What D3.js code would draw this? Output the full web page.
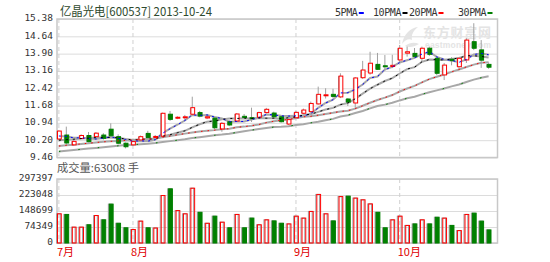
<!DOCTYPE html>
<html>
<head>
<meta charset="utf-8">
<script src="https://cdn.jsdelivr.net/npm/d3@7/dist/d3.min.js"></script>
<style>
  body { margin: 0; background: #fff; }
  svg { display: block; }
</style>
</head>
<body>
<div id="chart"></div>
<script>
// trading days shown, 2013-07 .. 2013-10-24
const days = d3.range(59);
const monthLabels = ['7月', '8月', '9月', '10月'];
const monthStart = [0, 10, 32, 46];

const open  = [10.25,10.42,10.00,10.27,10.40,10.35,10.42,10.67,10.35,10.07,
               10.00,10.21,10.49,10.33,10.37,11.31,11.14,11.16,11.31,11.38,
               11.15,11.14,10.68,10.99,11.02,11.22,11.16,11.18,11.38,11.36,
               11.20,10.89,11.16,11.35,11.42,11.75,12.10,12.16,12.05,11.96,
               11.79,12.87,13.07,13.44,13.38,13.35,13.63,13.92,13.91,13.70,
               14.13,13.70,12.99,13.66,13.34,13.63,14.41,14.06,13.44];
const high  = [10.63,10.78,10.20,10.45,10.55,10.55,10.50,10.92,10.45,10.10,
               10.20,10.40,10.60,10.42,11.38,11.45,11.22,11.28,12.06,11.45,
               11.30,11.20,10.98,11.05,11.36,11.32,11.59,11.42,11.58,11.42,
               11.26,11.12,11.45,11.55,11.85,12.49,12.42,12.40,13.06,12.00,
               12.90,13.59,13.98,13.93,13.84,13.85,14.27,14.20,14.14,14.20,
               14.20,13.75,13.50,13.75,13.74,14.56,15.20,14.48,13.52];
const low   = [10.21,10.00,9.95,10.25,10.10,10.30,10.22,10.35,10.02,9.85,
               9.95,10.18,10.28,10.28,10.33,11.02,11.10,11.06,11.30,11.18,
               11.10,10.68,10.56,10.80,11.00,11.12,10.98,11.12,11.34,11.15,
               10.95,10.85,11.12,11.30,11.38,11.72,11.98,11.98,12.00,11.66,
               11.56,12.82,13.00,13.20,13.18,13.28,13.49,13.77,13.71,13.56,
               13.80,12.98,12.77,13.40,13.20,13.50,14.05,13.29,13.25];
const close = [10.59,10.08,10.15,10.40,10.14,10.50,10.28,10.39,10.07,9.92,
               10.14,10.35,10.31,10.36,11.35,11.09,11.18,11.20,11.59,11.23,
               11.20,10.73,10.92,10.85,11.32,11.17,11.12,11.38,11.52,11.20,
               10.99,11.08,11.39,11.49,11.77,12.16,12.14,12.07,12.94,11.83,
               12.86,13.20,13.49,13.23,13.34,13.40,14.13,13.98,13.77,14.13,
               13.87,13.06,13.41,13.60,13.70,14.48,14.13,13.62,13.32];
const volume = [138000,135000,76000,76000,87000,130000,110000,183000,94000,73000,
                65000,104000,73000,72000,223000,254000,153000,138000,257000,145000,
                94000,127000,99000,73000,135000,73000,118000,87000,110000,105000,
                94000,91000,127000,118000,149000,228000,138000,105000,218000,220000,
                211000,203000,184000,145000,73000,110000,127000,84000,91000,110000,
                91000,122000,118000,84000,60000,135000,141000,104000,63008];

const ma5  = [10.38,10.36,10.30,10.30,10.27,10.25,10.29,10.34,10.28,10.23,
              10.16,10.17,10.16,10.22,10.50,10.69,10.86,11.04,11.28,11.26,
              11.28,11.19,11.13,10.99,11.00,11.00,11.08,11.17,11.30,11.28,
              11.24,11.23,11.24,11.23,11.34,11.58,11.79,11.93,12.22,12.23,
              12.37,12.58,12.86,12.92,13.22,13.33,13.52,13.62,13.72,13.88,
              13.98,13.76,13.65,13.61,13.53,13.65,13.86,13.91,13.85];
const ma10 = [10.20,10.22,10.24,10.27,10.29,10.31,10.32,10.32,10.30,10.25,
              10.21,10.23,10.25,10.25,10.37,10.43,10.52,10.60,10.75,10.88,
              10.99,11.02,11.09,11.13,11.13,11.14,11.13,11.15,11.14,11.14,
              11.12,11.16,11.20,11.27,11.31,11.41,11.51,11.58,11.72,11.79,
              11.97,12.19,12.40,12.57,12.73,12.85,13.05,13.24,13.32,13.55,
              13.65,13.64,13.63,13.67,13.71,13.81,13.81,13.78,13.73];
const ma20 = [9.95,9.98,10.01,10.04,10.07,10.10,10.13,10.15,10.17,10.19,
              10.21,10.23,10.25,10.27,10.33,10.38,10.43,10.48,10.53,10.57,
              10.60,10.63,10.67,10.69,10.75,10.78,10.82,10.87,10.95,11.01,
              11.05,11.09,11.14,11.20,11.22,11.27,11.32,11.37,11.43,11.46,
              11.55,11.67,11.80,11.92,12.02,12.13,12.28,12.41,12.52,12.67,
              12.81,12.91,13.01,13.12,13.22,13.33,13.43,13.51,13.53];
const ma30 = [9.72,9.75,9.78,9.81,9.84,9.87,9.90,9.93,9.96,9.99,
              10.01,10.03,10.05,10.08,10.12,10.16,10.20,10.24,10.29,10.33,
              10.37,10.41,10.44,10.48,10.53,10.58,10.63,10.68,10.72,10.76,
              10.77,10.80,10.85,10.88,10.94,10.99,11.05,11.11,11.21,11.27,
              11.36,11.45,11.56,11.66,11.72,11.80,11.90,11.99,12.06,12.16,
              12.25,12.33,12.41,12.50,12.58,12.69,12.79,12.87,12.93];

const priceTicks = [9.46, 10.20, 10.94, 11.68, 12.42, 13.16, 13.90, 14.64, 15.38];
const volTicks = [0, 74349, 148699, 223048, 297397];

const maNames = ['5PMA', '10PMA', '20PMA', '30PMA'];
const maColors = ['#0000ff', '#000000', '#ff0000', '#008000'];
const maSeries = [ma5, ma10, ma20, ma30];

const width = 550, height = 262;
const left = 57, right = 497.5;
const pTop = 19, pBottom = 157.5;
const vTop = 179, vBottom = 243;
const UP = '#ff0000', DOWN = '#008000', SHADOW = '#a0a0a0';
const txtFont = '"Noto Sans CJK SC", sans-serif';
const numFont = '"DejaVu Sans Mono", monospace';

const svg = d3.select('#chart').append('svg')
    .attr('width', width)
    .attr('height', height);

const x = d3.scaleBand()
    .domain(days)
    .range([56, 491.5])
    .paddingInner(0.22);
const cx = i => x(i) + x.bandwidth() / 2;

const y = d3.scaleLinear().domain([9.46, 15.38]).range([pBottom, pTop]);
const yv = d3.scaleLinear().domain([0, 297397]).range([vBottom, vTop]);

// grids + axis labels
const gridAxis = (scale, ticks, fmt) => g => g
    .attr('transform', `translate(${left},0)`)
    .call(d3.axisLeft(scale)
        .tickValues(ticks)
        .tickSize(-(right - left))
        .tickPadding(4)
        .tickFormat(fmt))
    .call(g => g.select('.domain').remove())
    .call(g => g.selectAll('line').attr('stroke', '#dcdcdc'))
    .call(g => g.selectAll('text')
        .attr('font-family', numFont)
        .attr('font-size', '9.5px')
        .attr('fill', '#333')
        .attr('dy', '0.2em'));

svg.append('g').call(gridAxis(y, priceTicks, d3.format('.2f')));
svg.append('g').call(gridAxis(yv, volTicks, d3.format('d')));

// month dashed lines
[[pTop, pBottom], [vTop, vBottom]].forEach(([t, b]) => {
    svg.append('g')
        .selectAll('line')
        .data(monthStart)
        .join('line')
        .attr('x1', d => cx(d)).attr('x2', d => cx(d))
        .attr('y1', t).attr('y2', b)
        .attr('stroke', '#d0d0d0')
        .attr('stroke-dasharray', '4,3');
});

// panel frames
[[pTop, pBottom], [vTop, vBottom]].forEach(([t, b]) => {
    svg.append('rect')
        .attr('x', left).attr('y', t)
        .attr('width', right - left).attr('height', b - t)
        .attr('fill', 'none')
        .attr('stroke', '#c8c8c8')
        .attr('stroke-width', 1.5);
});

// watermark
const wm = svg.append('g').attr('fill', '#e4e4e4');
wm.append('path')
    .attr('d', 'M402,44 C404,34 410,28 418,27 C413,31 411,35 412,40 C409,38 405,40 402,44 Z M405,46 C410,42 415,42 419,44 C414,47 409,48 405,46 Z');
wm.append('text')
    .attr('x', 423).attr('y', 37)
    .attr('font-family', txtFont)
    .attr('font-size', '13px')
    .attr('font-weight', 'bold')
    .attr('textLength', 68)
    .text('东方财富网');
wm.append('text')
    .attr('x', 425).attr('y', 48)
    .attr('font-family', 'Arial, sans-serif')
    .attr('font-size', '8.5px')
    .attr('font-weight', 'bold')
    .attr('textLength', 66)
    .text('eastmoney.com');

// volume bars
const isUp = i => close[i] >= open[i];
const bw = x.bandwidth();

const vol = svg.append('g');
vol.selectAll('rect.sh')
    .data(days)
    .join('rect')
    .attr('class', 'sh')
    .attr('x', i => x(i) + 0.5)
    .attr('y', i => yv(volume[i]) + 0.5)
    .attr('width', bw - 2)
    .attr('height', i => vBottom - yv(volume[i]) - 0.5)
    .attr('fill', i => isUp(i) ? 'none' : SHADOW)
    .attr('stroke', SHADOW);
vol.selectAll('rect.bar')
    .data(days)
    .join('rect')
    .attr('class', 'bar')
    .attr('x', i => x(i) + 1.5)
    .attr('y', i => yv(volume[i]) + 0.5)
    .attr('width', bw - 2)
    .attr('height', i => vBottom - yv(volume[i]) - 0.5)
    .attr('fill', i => isUp(i) ? 'none' : DOWN)
    .attr('stroke', i => isUp(i) ? UP : DOWN);

// moving averages: grey trace with sparse coloured dashes over it
const line = s => d3.line()
    .x((d, i) => cx(i))
    .y(d => y(d))(s);
const dashes = ['2,4', '2,5', '1.5,5', '1.5,18'];

svg.append('g')
    .selectAll('path')
    .data(maSeries)
    .join('path')
    .attr('d', line)
    .attr('fill', 'none')
    .attr('stroke', '#a8a8a8')
    .attr('stroke-width', 2);

// candles
const candle = svg.append('g');
candle.selectAll('line.wick')
    .data(days)
    .join('line')
    .attr('class', 'wick')
    .attr('x1', i => cx(i)).attr('x2', i => cx(i))
    .attr('y1', i => y(high[i])).attr('y2', i => y(low[i]))
    .attr('stroke', SHADOW);
candle.selectAll('rect.sh')
    .data(days)
    .join('rect')
    .attr('class', 'sh')
    .attr('x', i => x(i) + 0.5)
    .attr('y', i => y(Math.max(open[i], close[i])))
    .attr('width', bw - 2)
    .attr('height', i => Math.max(1, Math.abs(y(open[i]) - y(close[i]))))
    .attr('fill', SHADOW);
candle.selectAll('rect.body')
    .data(days)
    .join('rect')
    .attr('class', 'body')
    .attr('x', i => x(i) + 1.5)
    .attr('y', i => y(Math.max(open[i], close[i])))
    .attr('width', bw - 2)
    .attr('height', i => Math.max(1, Math.abs(y(open[i]) - y(close[i]))))
    .attr('fill', i => isUp(i) ? '#fff' : DOWN)
    .attr('stroke', i => isUp(i) ? UP : DOWN);

svg.append('g')
    .selectAll('path')
    .data(maSeries)
    .join('path')
    .attr('d', line)
    .attr('fill', 'none')
    .attr('stroke', (d, i) => maColors[i])
    .attr('stroke-width', 1)
    .attr('stroke-dasharray', (d, i) => dashes[i]);

// month labels
svg.append('g')
    .selectAll('text')
    .data(monthStart)
    .join('text')
    .attr('x', (d, i) => i === 0 ? 57 : cx(d) - 2)
    .attr('y', 256)
    .attr('font-family', txtFont)
    .attr('font-size', '11px')
    .attr('fill', '#e00000')
    .text((d, i) => monthLabels[i]);

// title and volume caption
svg.append('text')
    .attr('x', 60).attr('y', 16)
    .attr('font-family', txtFont)
    .attr('font-size', '12px')
    .attr('fill', '#2e4a2e')
    .attr('textLength', 152)
    .attr('lengthAdjust', 'spacingAndGlyphs')
    .text('亿晶光电[600537] 2013-10-24');

svg.append('text')
    .attr('x', 57).attr('y', 172)
    .attr('font-family', txtFont)
    .attr('font-size', '11px')
    .attr('fill', '#555')
    .attr('textLength', 82)
    .attr('lengthAdjust', 'spacingAndGlyphs')
    .text('成交量:' + volume[volume.length - 1] + ' 手');

// legend
const legendX = [335, 373, 409, 458];
const legend = svg.append('g')
    .selectAll('g')
    .data(maNames)
    .join('g')
    .attr('transform', (d, i) => `translate(${legendX[i]},16)`);
legend.append('text')
    .attr('font-family', numFont)
    .attr('font-size', '10px')
    .attr('fill', '#333')
    .attr('textLength', d => d.length * 5.7)
    .text(d => d);
legend.append('rect')
    .attr('x', d => d.length * 5.7 + 1)
    .attr('y', -4)
    .attr('width', 5)
    .attr('height', 2)
    .attr('fill', (d, i) => maColors[i]);
</script>
</body>
</html>
